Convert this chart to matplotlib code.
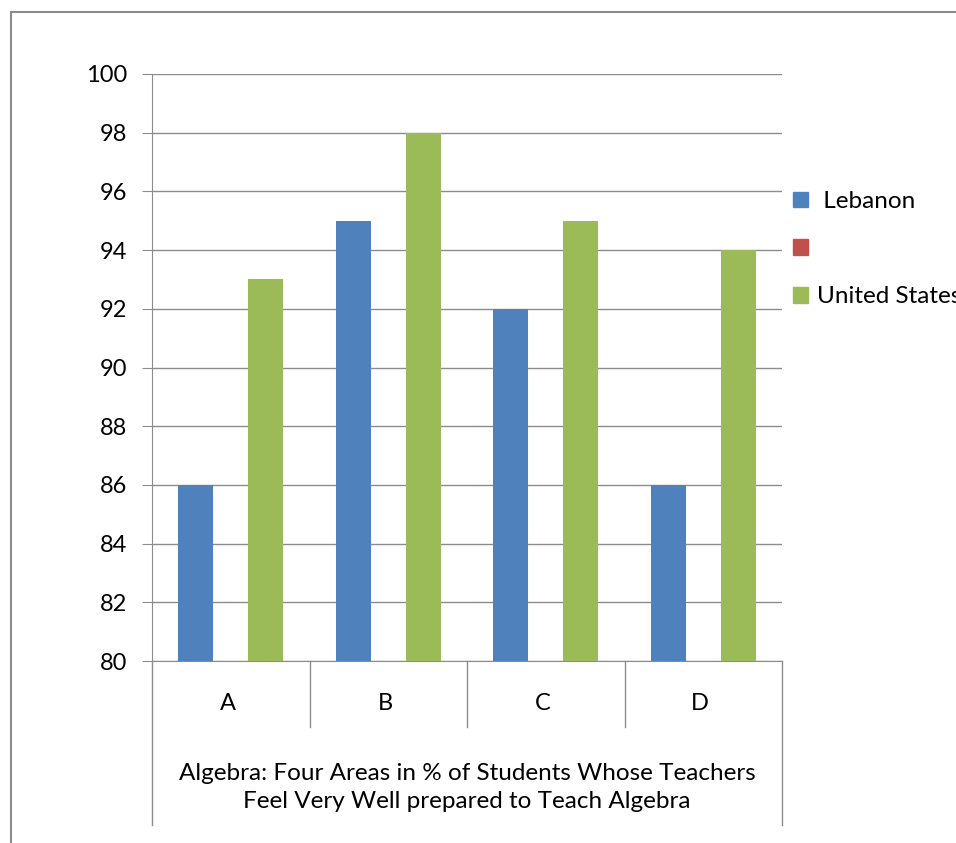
import numpy as np
import matplotlib
matplotlib.use('Agg')
import matplotlib.pyplot as plt
from matplotlib.lines import Line2D
from matplotlib.patches import Patch

# data
categories = ['A', 'B', 'C', 'D']
lebanon = [86, 95, 92, 86]
blank_series = [np.nan, np.nan, np.nan, np.nan]
united_states = [93, 98, 95, 94]
series_labels = [' Lebanon', '', 'United States']
yticks = list(range(80, 101, 2))
axis_title = 'Algebra: Four Areas in % of Students Whose Teachers\nFeel Very Well prepared to Teach Algebra'

plt.rcParams['font.family'] = ['Lato', 'DejaVu Sans']

W, H = 956, 843
fig = plt.figure(figsize=(W / 100, H / 100), dpi=100)
fig.patch.set_facecolor('white')

# outer chart border (only top/left visible)
fig.add_artist(Line2D([11 / W, 11 / W], [0, 1 - 12 / H], color='#8c8c8c', lw=1.5))
fig.add_artist(Line2D([11 / W, 1], [1 - 12 / H, 1 - 12 / H], color='#8c8c8c', lw=1.5))

ax_l, ax_r, ax_t, ax_b = 152, 782, 74, 661
ax = fig.add_axes([ax_l / W, 1 - ax_b / H, (ax_r - ax_l) / W, (ax_b - ax_t) / H])

x = np.arange(len(categories))
w = 0.222
colors = ['#4F81BD', '#C0504D', '#9BBB59']
for i, (vals, c) in enumerate(zip([lebanon, blank_series, united_states], colors)):
    ax.bar(x + (i - 1) * w, vals, width=w, color=c, zorder=3)

ax.set_ylim(80, 100)
ax.set_xlim(-0.5, len(categories) - 0.5)
ax.set_yticks(yticks)
ax.yaxis.grid(True, color='#8c8c8c', lw=1)
ax.set_axisbelow(True)
ax.tick_params(axis='y', length=7, color='#8c8c8c', pad=11, labelsize=17)
ax.set_xticks([])
for s in ['top', 'right']:
    ax.spines[s].set_visible(False)
for s in ['left', 'bottom']:
    ax.spines[s].set_color('#8c8c8c')

# multi-level category axis
ph = ax_b - ax_t
tr = ax.get_xaxis_transform()
for k in range(len(categories) + 1):
    xs = k - 0.5
    low = -164 / ph if k in (0, len(categories)) else -66 / ph
    ax.plot([xs, xs], [0, low], color='#8c8c8c', lw=1, transform=tr, clip_on=False)
for k, lab in enumerate(categories):
    ax.text(k - 0.02, -42 / ph, lab, transform=tr, ha='center', va='center', fontsize=17)
ax.text(1.5, -126.5 / ph, axis_title, transform=tr, ha='center', va='center',
        fontsize=17.5, linespacing=1.45)

handles = [Patch(color=c) for c in colors]
fig.legend(handles, series_labels, loc='upper left',
           bbox_to_anchor=(793 / W, 1 - 191 / H), frameon=False, fontsize=17.5,
           handlelength=0.6, handleheight=0.6, handletextpad=0.4,
           labelspacing=1.1, borderpad=0, borderaxespad=0)

fig.savefig('out.png', dpi=100)
